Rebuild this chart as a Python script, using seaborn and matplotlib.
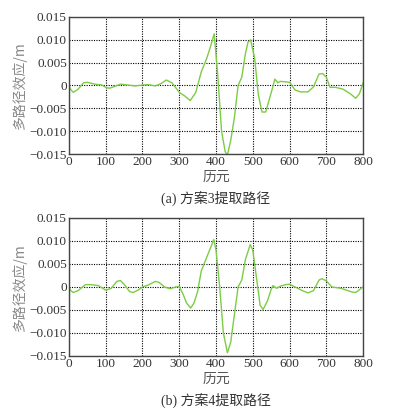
import numpy as np
import pandas as pd
import matplotlib
matplotlib.use("Agg")
import matplotlib.pyplot as plt
import seaborn as sns

# (a) 方案3提取路径
epoch_a = [0, 5, 12, 25, 40, 50, 70, 90, 100, 110, 125, 140, 160, 180, 200, 215, 235,
           250, 265, 280, 300, 315, 330, 345, 360, 375, 385, 395, 405, 415, 425, 431,
           440, 450, 460, 470, 480, 487, 494, 505, 515, 525, 535, 545, 552, 560, 568,
           575, 590, 600, 615, 630, 650, 665, 680, 690, 700, 710, 725, 745, 765, 780,
           790, 800]
mp_a = [0.0, -0.0009, -0.0015, -0.0008, 0.0006, 0.0007, 0.0003, 0.0001, -0.0004,
        -0.0006, -0.0002, 0.0003, 0.0001, -0.0001, 0.0001, 0.0002, -0.0001, 0.0004,
        0.0012, 0.0006, -0.0015, -0.0023, -0.0033, -0.0015, 0.003, 0.006, 0.0085,
        0.0113, 0.002, -0.010, -0.0145, -0.0152, -0.012, -0.007, 0.0, 0.0018, 0.007,
        0.0095, 0.0100, 0.006, -0.002, -0.0058, -0.0058, -0.003, -0.001, 0.0014,
        0.0006, 0.0009, 0.0008, 0.0007, -0.0010, -0.0014, -0.0014, -0.0003, 0.0025,
        0.0026, 0.0018, -0.0004, -0.0004, -0.0008, -0.0018, -0.0028, -0.0018, 0.0006]

# (b) 方案4提取路径
epoch_b = [0, 5, 12, 25, 45, 60, 80, 100, 115, 130, 140, 150, 165, 175, 190, 200, 215,
           235, 245, 260, 275, 290, 300, 310, 320, 331, 340, 350, 360, 375, 385, 394,
           400, 410, 420, 431, 440, 450, 460, 470, 480, 493, 500, 510, 520, 528, 540,
           550, 555, 565, 575, 590, 600, 615, 635, 650, 665, 680, 688, 700, 715, 740,
           770, 780, 800]
mp_b = [0.0, -0.0008, -0.0012, -0.0008, 0.0005, 0.0005, 0.0003, -0.0007, -0.0003,
        0.0012, 0.0014, 0.0006, -0.0010, -0.0012, -0.0006, 0.0, 0.0004, 0.0012, 0.0010,
        0.0, -0.0004, 0.0, 0.0001, -0.0015, -0.0035, -0.0046, -0.0035, -0.001, 0.0035,
        0.0065, 0.0085, 0.0103, 0.008, 0.0, -0.010, -0.0143, -0.012, -0.006, 0.0,
        0.0015, 0.006, 0.0092, 0.008, 0.002, -0.004, -0.0049, -0.0030, -0.0005, 0.0003,
        -0.0003, 0.0002, 0.0005, 0.0006, 0.0, -0.0008, -0.0013, -0.0008, 0.0015, 0.0018,
        0.0013, 0.0, -0.0003, -0.0011, -0.0012, 0.0]

xticks = [0, 100, 200, 300, 400, 500, 600, 700, 800]
yticks = [-0.015, -0.010, -0.005, 0, 0.005, 0.010, 0.015]
ytick_labels = ["\u22120.015", "\u22120.010", "\u22120.005", "0", "0.005", "0.010", "0.015"]
captions = ["(a) 方案3提取路径", "(b) 方案4提取路径"]

sns.set_style("white")
plt.rcParams['font.family'] = ['Liberation Serif', 'Noto Sans CJK SC', 'DejaVu Sans']

fig = plt.figure(figsize=(3.96, 4.12), dpi=100)
ax_a = fig.add_axes([0.174, 0.626, 0.743, 0.333])
ax_b = fig.add_axes([0.174, 0.136, 0.743, 0.335])

panels = [(ax_a, epoch_a, mp_a), (ax_b, epoch_b, mp_b)]
for i, (ax, ep, mp) in enumerate(panels):
    df = pd.DataFrame({"epoch": ep, "mp": mp})
    sns.lineplot(data=df, x="epoch", y="mp", ax=ax, color="#7dcc45", linewidth=1.0)
    ax.set_xlim(0, 800)
    ax.set_ylim(-0.015, 0.015)
    ax.set_xticks(xticks)
    ax.set_yticks(yticks)
    ax.set_yticklabels(ytick_labels)
    ax.grid(True, color="black", linestyle=(0, (1, 1.2)), linewidth=0.8)
    ax.tick_params(direction="in", length=3, width=0.8, labelsize=9.5,
                   colors="#333333", pad=1.5)
    for sp in ax.spines.values():
        sp.set_color("#444444")
        sp.set_linewidth(1.0)
    ax.set_xlabel("历元", fontsize=10, color="#555555", labelpad=1,
                  family=['Noto Sans CJK SC'])
    ax.set_ylabel("多路径效应/m", fontsize=10, color="#888888", labelpad=2,
                  family=['Noto Sans CJK SC'])
    ax.text(0.5, -0.32, captions[i], transform=ax.transAxes, ha="center", va="center",
            fontsize=10, color="#333333")

fig.savefig("out.png", dpi=100, facecolor="white")
